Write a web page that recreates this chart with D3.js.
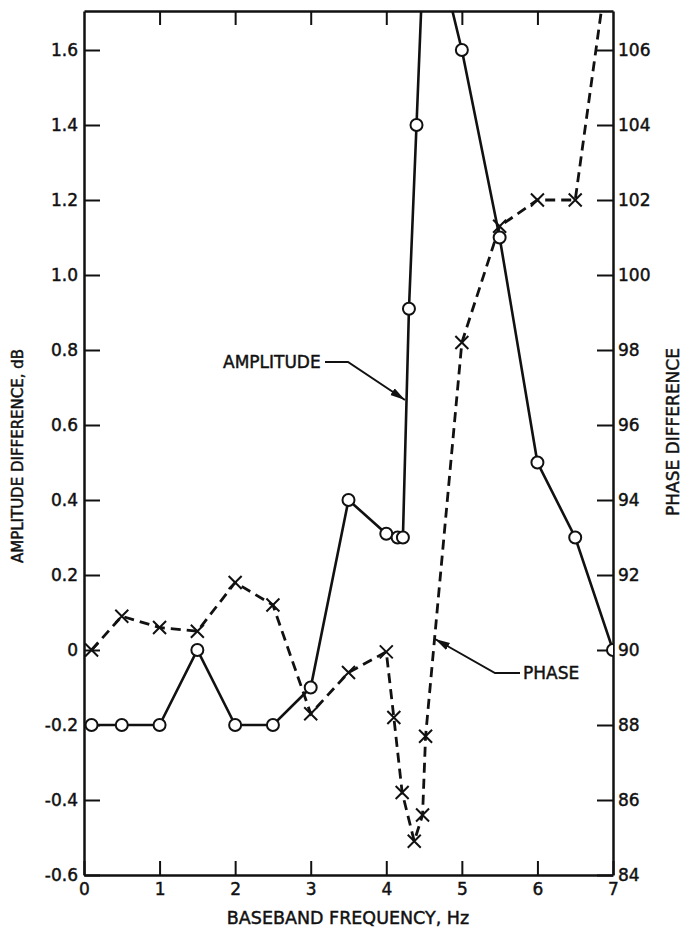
<!DOCTYPE html>
<html>
<head>
<meta charset="utf-8">
<script src="https://cdn.jsdelivr.net/npm/d3@7"></script>
<style>
  body { margin: 0; background: #fff; }
  text { font-family: "DejaVu Sans", sans-serif; fill: #111; stroke: #111; stroke-width: 0.45px; }
</style>
</head>
<body>
<script>
var width = 684;
var height = 932;
var margin = {top: 11, right: 71, bottom: 57, left: 84};

// amplitude difference (dB), circles, solid line
var ampFreq   = [0.1, 0.5, 1, 1.5, 2, 2.5, 3, 3.5, 4, 4.15, 4.22, 4.3, 4.4, 4.52, 5, 5.5, 6, 6.5, 7];
var ampValues = [-0.2, -0.2, -0.2, 0, -0.2, -0.2, -0.1, 0.4, 0.31, 0.30, 0.30, 0.91, 1.4, 2.0, 1.6, 1.1, 0.5, 0.3, 0];

// phase difference (deg), crosses, dashed line
var phaseFreq   = [0.1, 0.5, 1, 1.5, 2, 2.5, 3, 3.5, 4, 4.1, 4.21, 4.37, 4.48, 4.52, 5, 5.5, 6, 6.5, 7];
var phaseValues = [90, 90.9, 90.6, 90.5, 91.8, 91.2, 88.3, 89.4, 89.95, 88.2, 86.2, 84.9, 85.6, 87.7, 98.2, 101.3, 102, 102, 109.3];

var xTicks = [0, 1, 2, 3, 4, 5, 6, 7];
var ampTicks = [-0.6, -0.4, -0.2, 0, 0.2, 0.4, 0.6, 0.8, 1.0, 1.2, 1.4, 1.6];
var phaseTicks = [84, 86, 88, 90, 92, 94, 96, 98, 100, 102, 104, 106];

var svg = d3.select('body').append('svg')
            .attr('width', width)
            .attr('height', height);

var x = d3.scaleLinear().domain([0, 7]).range([margin.left, width - margin.right]);
var yAmp = d3.scaleLinear().domain([-0.6, 1.704]).range([height - margin.bottom, margin.top]);
var yPhase = d3.scaleLinear().domain([84, 107.04]).range([height - margin.bottom, margin.top]);

var ampFmt = function(d) { return d === 0 ? '0' : d3.format('.1f')(d).replace('\u2212', '-'); };

// axes
var gLeft = svg.append('g')
  .attr('transform', `translate(${margin.left},0)`)
  .call(d3.axisLeft(yAmp).tickValues(ampTicks).tickFormat(ampFmt).tickSize(-16).tickSizeOuter(0).tickPadding(6));

var gRight = svg.append('g')
  .attr('transform', `translate(${width - margin.right},0)`)
  .call(d3.axisRight(yPhase).tickValues(phaseTicks).tickSize(-16).tickSizeOuter(0).tickPadding(5));

var gBottom = svg.append('g')
  .attr('transform', `translate(0,${height - margin.bottom})`)
  .call(d3.axisBottom(x).tickValues(xTicks).tickFormat(d3.format('d')).tickSize(-14).tickSizeOuter(0).tickPadding(8));

var gTop = svg.append('g')
  .attr('transform', `translate(0,${margin.top})`)
  .call(d3.axisTop(x).tickValues(xTicks.slice(1, 7)).tickFormat('').tickSize(-14).tickSizeOuter(0));

[gLeft, gRight, gBottom, gTop].forEach(function(g) {
  g.select('.domain').attr('stroke', '#111').attr('stroke-width', 2.5);
  g.selectAll('.tick line').attr('stroke', '#111').attr('stroke-width', 2);
  g.selectAll('.tick text').style('font-size', '17px').attr('fill', '#111');
});

// clip for the data
svg.append('clipPath').attr('id', 'plot')
  .append('rect')
    .attr('x', margin.left)
    .attr('y', margin.top)
    .attr('width', width - margin.left - margin.right)
    .attr('height', height - margin.top - margin.bottom);

var ampData = ampFreq.map(function(f, i) { return {f: f, v: ampValues[i]}; });
var phaseData = phaseFreq.map(function(f, i) { return {f: f, v: phaseValues[i]}; });

var plot = svg.append('g').attr('clip-path', 'url(#plot)');

plot.append('path')
  .datum(phaseData)
  .attr('fill', 'none')
  .attr('stroke', '#111')
  .attr('stroke-width', 2.8)
  .attr('stroke-dasharray', '10,6')
  .attr('d', d3.line().x(d => x(d.f)).y(d => yPhase(d.v)));

plot.append('path')
  .datum(ampData)
  .attr('fill', 'none')
  .attr('stroke', '#111')
  .attr('stroke-width', 2.6)
  .attr('d', d3.line().x(d => x(d.f)).y(d => yAmp(d.v)));

plot.selectAll('path.cross').data(phaseData)
  .enter().append('path')
    .attr('class', 'cross')
    .attr('transform', d => `translate(${x(d.f)},${yPhase(d.v)})`)
    .attr('d', 'M-6.5,-6.5L6.5,6.5M-6.5,6.5L6.5,-6.5')
    .attr('stroke', '#111')
    .attr('stroke-width', 2);

plot.selectAll('circle').data(ampData)
  .enter().append('circle')
    .attr('cx', d => x(d.f))
    .attr('cy', d => yAmp(d.v))
    .attr('r', 6)
    .attr('fill', '#fff')
    .attr('stroke', '#111')
    .attr('stroke-width', 2);

// arrowhead
svg.append('defs').append('marker')
  .attr('id', 'arrow')
  .attr('markerUnits', 'userSpaceOnUse')
  .attr('markerWidth', 16).attr('markerHeight', 10)
  .attr('refX', 15).attr('refY', 4)
  .attr('orient', 'auto')
  .append('path')
    .attr('d', 'M0,0L15,4L0,8Z')
    .attr('fill', '#111');

// callouts
svg.append('text')
  .attr('x', 223).attr('y', 362).attr('dy', '0.36em')
  .style('font-size', '17px')
  .text('AMPLITUDE');
svg.append('path')
  .attr('d', 'M325,362L348,362L405,400')
  .attr('fill', 'none').attr('stroke', '#111').attr('stroke-width', 2)
  .attr('marker-end', 'url(#arrow)');

svg.append('text')
  .attr('x', 523).attr('y', 673).attr('dy', '0.36em')
  .style('font-size', '17px')
  .text('PHASE');
svg.append('path')
  .attr('d', 'M520,673L495,673L435,639')
  .attr('fill', 'none').attr('stroke', '#111').attr('stroke-width', 2)
  .attr('marker-end', 'url(#arrow)');

// axis titles
svg.append('text')
  .attr('transform', 'translate(18,456) rotate(-90)')
  .attr('text-anchor', 'middle').attr('dy', '0.36em')
  .style('font-size', '15px')
  .text('AMPLITUDE DIFFERENCE, dB');

svg.append('text')
  .attr('transform', 'translate(673,432) rotate(-90)')
  .attr('text-anchor', 'middle').attr('dy', '0.36em')
  .style('font-size', '17px')
  .text('PHASE DIFFERENCE');

svg.append('text')
  .attr('x', 348).attr('y', 918).attr('dy', '0.36em')
  .attr('text-anchor', 'middle')
  .style('font-size', '17.5px')
  .text('BASEBAND FREQUENCY, Hz');
</script>
</body>
</html>
